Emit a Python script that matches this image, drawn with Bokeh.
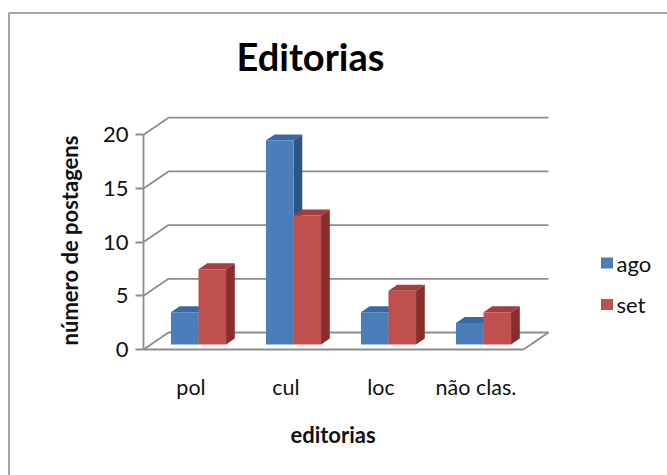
import math

from bokeh.core.properties import value
from bokeh.embed import file_html
from bokeh.models import FixedTicker, LinearAxis, Range1d
from bokeh.plotting import figure
from bokeh.resources import INLINE

# --- data -------------------------------------------------------------
categories = ["pol", "cul", "loc", "não clas."]
ago = [3, 19, 3, 2]
setembro = [7, 12, 5, 3]
series_labels = ["ago", "set"]
y_ticks = [0, 5, 10, 15, 20]

# --- layout constants (pixels) ----------------------------------------
W, H = 667, 475
X0_PX = 143.0          # front-left corner of the floor
Y0_PX = 349.0          # value 0 on the front plane
PX_PER_CAT = 95.0
PX_PER_UNIT = 10.74
DEPTH_PX = (25.0, 17.0)  # receding direction of the 3-D box

FONT = "Lato"


def cx(px):
    return (px - X0_PX) / PX_PER_CAT


def cy(py):
    return (Y0_PX - py) / PX_PER_UNIT


DU = DEPTH_PX[0] / PX_PER_CAT
DV = DEPTH_PX[1] / PX_PER_UNIT
BAR_W = 0.29        # width of one bar, in category units
BAR_FRONT = 0.30    # depth fraction where the bars begin
BAR_DEPTH = 0.35    # depth fraction covered by a bar

FACE = {"ago": ("#4A7EBB", "#3A68A3", "#2C5586"),
        "set": ("#C0504D", "#A23F3C", "#892E2B")}

p = figure(width=W, height=H,
           x_range=Range1d(cx(0), cx(W)), y_range=Range1d(cy(H), cy(0)),
           output_backend="svg", toolbar_location=None,
           x_axis_type=None, y_axis_type=None, min_border=0,
           outline_line_color=None, background_fill_color="white",
           border_fill_color="white")

GRID = "#8C8C8C"
n = len(categories)

# chart area border (left and top edges)
p.line([cx(8.5), cx(8.5), cx(W)], [cy(H), cy(12.5), cy(12.5)],
       line_color="#A6A6A6", line_width=2)

# back wall gridlines with their diagonals on the side wall
p.multi_line(xs=[[0, DU, n + DU] for t in y_ticks],
             ys=[[t, t + DV, t + DV] for t in y_ticks],
             line_color=GRID, line_width=1.8)
# right edge of the floor
p.line([n, n + DU], [0, DV], line_color=GRID, line_width=1.8)

# --- 3-D bars ---------------------------------------------------------
base = BAR_FRONT * DV
ddx, ddy = BAR_DEPTH * DU, BAR_DEPTH * DV
for s, (name, vals) in enumerate(zip(series_labels, [ago, setembro])):
    front, top_c, side_c = FACE[name]
    lefts = [i + 0.5 - BAR_W + s * BAR_W + BAR_FRONT * DU for i in range(n)]
    rights = [l + BAR_W for l in lefts]
    tops = [base + v for v in vals]
    # top faces
    p.patches(xs=[[l, r, r + ddx, l + ddx] for l, r in zip(lefts, rights)],
              ys=[[t, t, t + ddy, t + ddy] for t in tops],
              fill_color=top_c, line_color=None)
    # side faces
    p.patches(xs=[[r, r, r + ddx, r + ddx] for r in rights],
              ys=[[base, t, t + ddy, base + ddy] for t in tops],
              fill_color=side_c, line_color=None)
    # front faces
    p.quad(left=lefts, right=rights, bottom=base, top=tops,
           fill_color=front, line_color=None)

# --- axes on the front plane ------------------------------------------
yaxis = LinearAxis(fixed_location=0, bounds=(0, 20),
                   ticker=FixedTicker(ticks=y_ticks),
                   axis_line_color=GRID, axis_line_width=1.8,
                   major_tick_line_color=GRID, major_tick_line_width=1.8,
                   major_tick_out=8, major_tick_in=0,
                   minor_tick_line_color=None,
                   major_label_standoff=7,
                   major_label_text_font=FONT,
                   major_label_text_font_size="22px",
                   major_label_text_color="#111111")
p.add_layout(yaxis, "left")

xaxis = LinearAxis(fixed_location=0, bounds=(0, n),
                   ticker=FixedTicker(ticks=[i + 0.5 for i in range(n)]),
                   major_label_overrides={i + 0.5: c for i, c in enumerate(categories)},
                   axis_line_color=GRID, axis_line_width=1.8,
                   major_tick_line_color=None, major_tick_out=0, major_tick_in=0,
                   minor_tick_line_color=None,
                   major_label_standoff=24,
                   major_label_text_font=FONT,
                   major_label_text_font_size="21.5px",
                   major_label_text_color="#111111")
p.add_layout(xaxis, "below")

# --- titles -----------------------------------------------------------
p.text(x=[cx(310)], y=[cy(55)], text=["Editorias"],
       text_font=value(FONT), text_font_style="bold", text_font_size="38px",
       text_align="center", text_baseline="middle", text_color="#000000")
p.text(x=[cx(332.5)], y=[cy(434)], text=["editorias"],
       text_font=value(FONT), text_font_style="bold", text_font_size="22px",
       text_align="center", text_baseline="middle", text_color="#111111")
p.text(x=[cx(69)], y=[cy(240)], text=["número de postagens"],
       angle=math.pi / 2,
       text_font=value(FONT), text_font_style="bold", text_font_size="22px",
       text_align="center", text_baseline="middle", text_color="#111111")

# --- legend -----------------------------------------------------------
leg_y = [262.5, 304.0]
p.rect(x=[cx(606.5)] * 2, y=[cy(v) for v in leg_y], width=12, height=11,
       width_units="screen", height_units="screen",
       fill_color=[FACE[s][0] for s in series_labels], line_color=None)
p.text(x=[cx(616)] * 2, y=[cy(v) for v in leg_y], text=series_labels,
       text_font=value(FONT), text_font_size="22px",
       text_align="left", text_baseline="middle", text_color="#111111")

open("out.html", "w").write(file_html(p, INLINE))
